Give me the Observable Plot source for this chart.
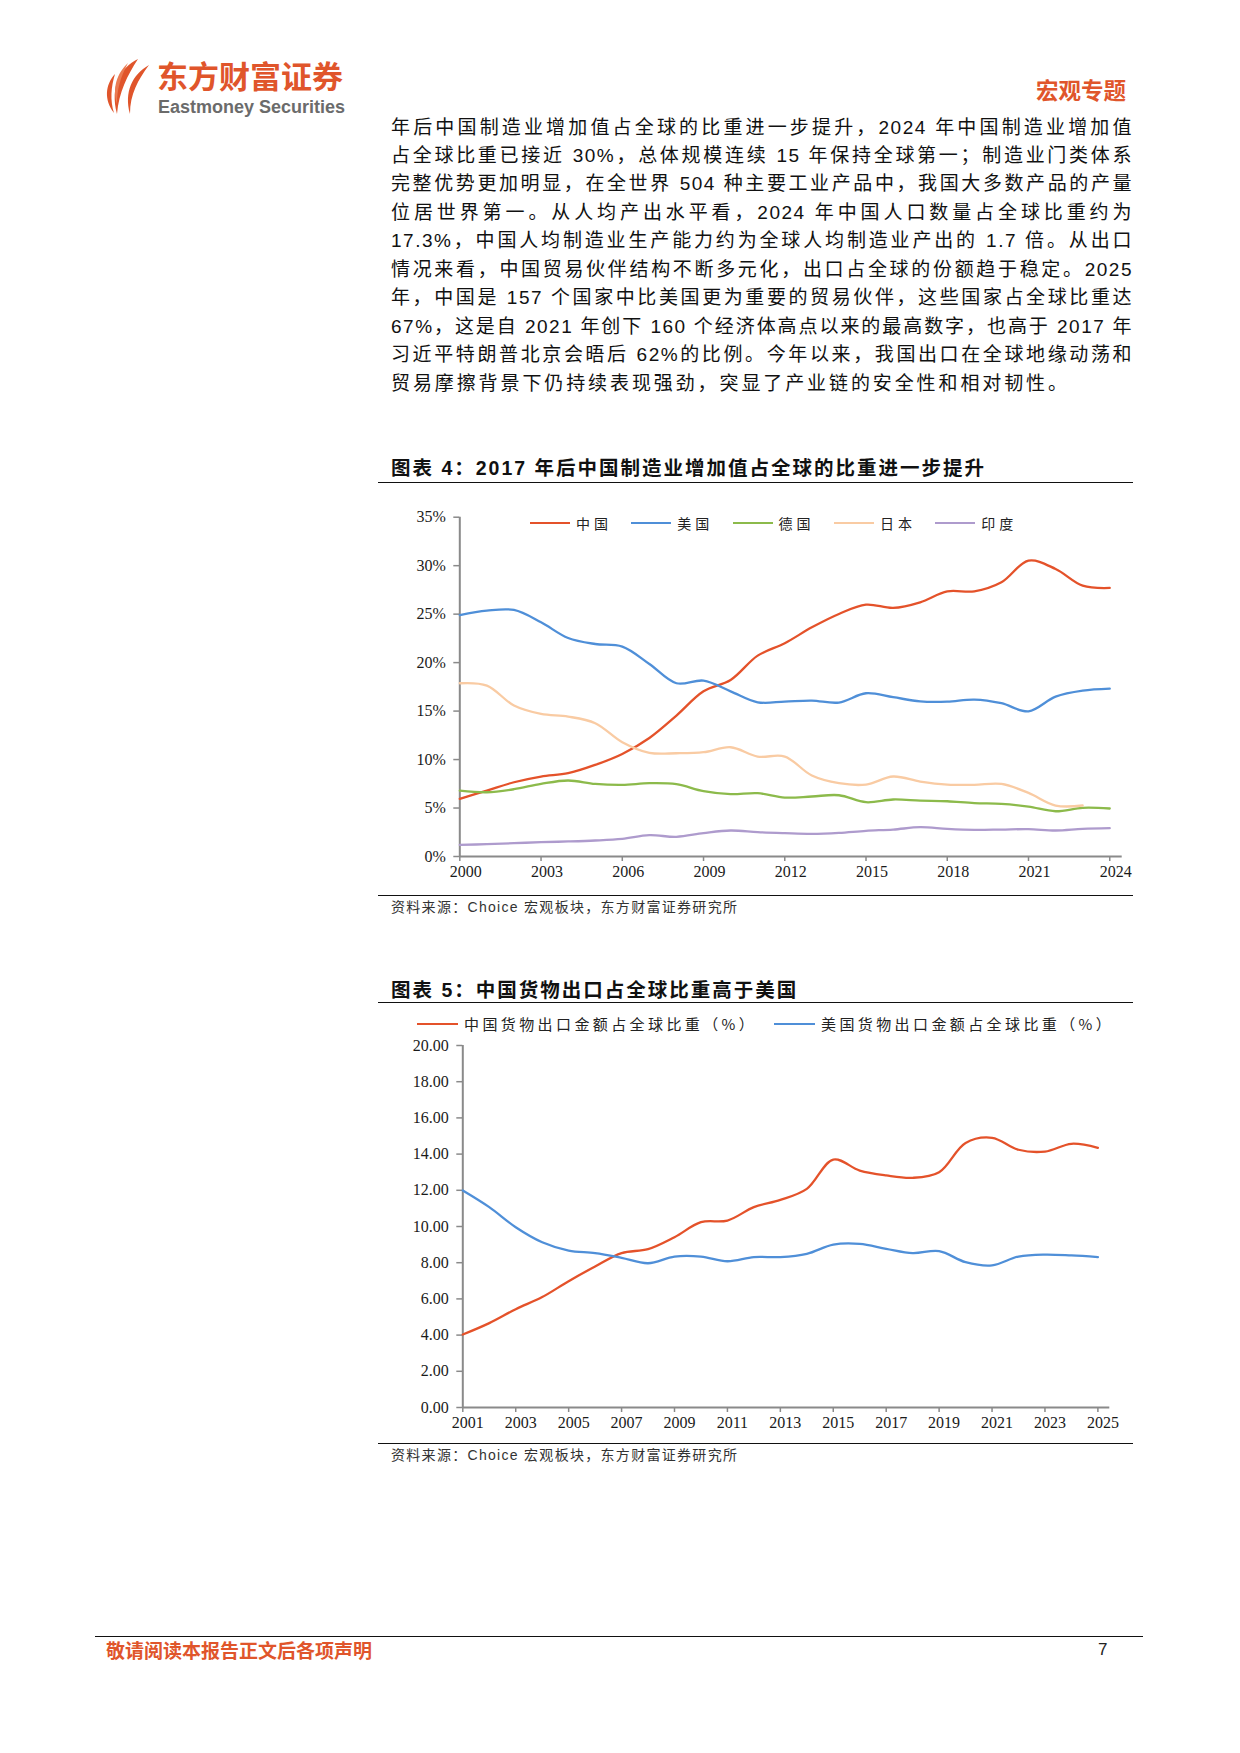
<!DOCTYPE html>
<html lang="zh-CN">
<head>
<meta charset="utf-8">
<title>宏观专题</title>
<script src="https://cdn.jsdelivr.net/npm/d3@7"></script>
<script src="https://cdn.jsdelivr.net/npm/@observablehq/plot@0.6"></script>
<style>
  html, body { margin: 0; padding: 0; background: #fff; }
  #page { position: relative; width: 1240px; height: 1753px; overflow: hidden;
          font-family: "Liberation Sans", "Noto Sans CJK SC", sans-serif; color: #1a1a1a; }
  .abs { position: absolute; white-space: nowrap; }
  .para { position: absolute; left: 391px; width: 742px; font-size: 19px; line-height: 28px;
          letter-spacing: 1.5px; text-align: justify; text-align-last: justify; color: #111; }
  .para.last { text-align-last: left; letter-spacing: 2.9px; }
  .rule { position: absolute; height: 0; border-top: 1.6px solid #111; }
  .ctitle { font-weight: 700; font-size: 19.5px; letter-spacing: 2px; line-height: 24px; color: #111; }
  .src { font-size: 14px; letter-spacing: 1.3px; line-height: 20px; color: #333; }
  .legend { position: absolute; display: flex; align-items: center; height: 20px; color: #222;
            font-family: "Noto Sans CJK SC", sans-serif; }
  .legend .item { display: flex; align-items: center; }
  .legend .swatch { height: 2.5px; flex: none; }
  .chart { position: absolute; }
  .brand { color: #e0552b; }
</style>
</head>
<body>
<div id="page">
  <!-- masthead -->
  <svg class="abs" style="left:102px;top:58px" width="52" height="58" viewBox="0 0 52 58">
    <path d="M36 1 C18 10 8 28 15 56 C17 34 25 18 36 1 Z" fill="#e0552b"/>
    <path d="M47 7 C30 17 22 34 28 56 C28 36 36 22 47 7 Z" fill="#e0552b"/>
    <path d="M13 16 C3 27 2 42 12 55 C8 42 9 29 13 16 Z" fill="#e0552b"/>
    <path d="M26 5 C15 15 10 30 15 46 C15 32 18 20 26 5 Z" fill="#ea7b52"/>
  </svg>
  <div class="abs brand" style="left:157px;top:60px;font-family:'Noto Sans CJK SC';font-weight:700;font-size:31px;line-height:30px;">东方财富证券</div>
  <div class="abs" style="left:158px;top:99px;font-weight:700;font-size:18px;line-height:17px;color:#6b6b6b;">Eastmoney Securities</div>
  <div class="abs brand" style="left:1036px;top:76px;font-family:'Noto Sans CJK SC';font-weight:700;font-size:22.5px;line-height:26px;">宏观专题</div>

  <!-- body text -->
  <div id="body"></div>

  <!-- figure 4 -->
  <div class="abs ctitle" style="left:391px;top:456px;">图表 4：2017 年后中国制造业增加值占全球的比重进一步提升</div>
  <div class="rule" style="left:378px;top:482px;width:755px;"></div>
  <div id="chart1" class="chart" style="left:380px;top:500px;"></div>
  <div id="legend1" class="legend" style="left:530px;top:513px;"></div>
  <div class="rule" style="left:378px;top:895px;width:755px;"></div>
  <div class="abs src" style="left:391px;top:897px;">资料来源：Choice 宏观板块，东方财富证券研究所</div>

  <!-- figure 5 -->
  <div class="abs ctitle" style="left:391px;top:978px;">图表 5：中国货物出口占全球比重高于美国</div>
  <div class="rule" style="left:378px;top:1002px;width:755px;"></div>
  <div id="chart2" class="chart" style="left:380px;top:1030px;"></div>
  <div id="legend2" class="legend" style="left:417px;top:1014px;"></div>
  <div class="rule" style="left:378px;top:1443px;width:755px;"></div>
  <div class="abs src" style="left:391px;top:1445px;">资料来源：Choice 宏观板块，东方财富证券研究所</div>

  <!-- footer -->
  <div class="rule" style="left:95px;top:1636px;width:1048px;"></div>
  <div class="abs brand" style="left:106px;top:1638px;font-family:'Noto Sans CJK SC';font-weight:700;font-size:19px;line-height:24px;">敬请阅读本报告正文后各项声明</div>
  <div class="abs" style="left:1098px;top:1640px;font-size:17px;line-height:20px;color:#222;">7</div>
</div>

<script>
// ---------- body text, one entry per printed line ----------
const bodyLines = [
  "年后中国制造业增加值占全球的比重进一步提升，2024 年中国制造业增加值",
  "占全球比重已接近 30%，总体规模连续 15 年保持全球第一；制造业门类体系",
  "完整优势更加明显，在全世界 504 种主要工业产品中，我国大多数产品的产量",
  "位居世界第一。从人均产出水平看，2024 年中国人口数量占全球比重约为",
  "17.3%，中国人均制造业生产能力约为全球人均制造业产出的 1.7 倍。从出口",
  "情况来看，中国贸易伙伴结构不断多元化，出口占全球的份额趋于稳定。2025",
  "年，中国是 157 个国家中比美国更为重要的贸易伙伴，这些国家占全球比重达",
  "67%，这是自 2021 年创下 160 个经济体高点以来的最高数字，也高于 2017 年",
  "习近平特朗普北京会晤后 62%的比例。今年以来，我国出口在全球地缘动荡和",
  "贸易摩擦背景下仍持续表现强劲，突显了产业链的安全性和相对韧性。"
];

// ---------- figure 4: manufacturing value added, share of world (%) ----------
const years1 = [2000, 2001, 2002, 2003, 2004, 2005, 2006, 2007, 2008, 2009, 2010, 2011, 2012,
                2013, 2014, 2015, 2016, 2017, 2018, 2019, 2020, 2021, 2022, 2023, 2024];
const china1   = [5.95, 6.80, 7.66, 8.25, 8.59, 9.45, 10.58, 12.23, 14.54, 17.04, 18.21, 20.72, 22.00,
                  23.64, 25.02, 25.98, 25.64, 26.22, 27.35, 27.35, 28.28, 30.52, 29.66, 27.94, 27.70];
const us1      = [24.91, 25.36, 25.43, 24.16, 22.54, 21.92, 21.65, 19.86, 17.87, 18.14, 17.04, 15.91, 15.98,
                  16.08, 15.88, 16.84, 16.43, 16.01, 15.98, 16.19, 15.81, 14.98, 16.49, 17.11, 17.32];
const germany1 = [6.80, 6.63, 6.94, 7.49, 7.84, 7.49, 7.39, 7.56, 7.46, 6.74, 6.43, 6.53, 6.08,
                  6.19, 6.32, 5.60, 5.88, 5.77, 5.70, 5.50, 5.43, 5.15, 4.67, 5.02, 4.95];
const japan1   = [17.87, 17.63, 15.57, 14.71, 14.43, 13.75, 11.79, 10.69, 10.65, 10.76, 11.27, 10.31, 10.31,
                  8.35, 7.56, 7.42, 8.25, 7.73, 7.42, 7.39, 7.49, 6.56, 5.26, 5.26];
const india1   = [1.20, 1.27, 1.37, 1.48, 1.55, 1.65, 1.82, 2.20, 2.03, 2.41, 2.68, 2.51, 2.41,
                  2.34, 2.44, 2.65, 2.78, 3.02, 2.85, 2.75, 2.78, 2.82, 2.68, 2.85, 2.92];
const names1  = ["中国", "美国", "德国", "日本", "印度"];
const colors1 = ["#e4522a", "#4f8fd8", "#8cba4b", "#f9cba3", "#ae9bcd"];
const xTicks1 = [2000, 2003, 2006, 2009, 2012, 2015, 2018, 2021, 2024];
const yTicks1 = [0, 5, 10, 15, 20, 25, 30, 35];

// ---------- figure 5: goods exports, share of world (%) ----------
const years2 = [2001, 2002, 2003, 2004, 2005, 2006, 2007, 2008, 2009, 2010, 2011, 2012, 2013,
                2014, 2015, 2016, 2017, 2018, 2019, 2020, 2021, 2022, 2023, 2024, 2025];
const china2 = [4.03, 4.66, 5.43, 6.10, 6.98, 7.79, 8.53, 8.75, 9.41, 10.24, 10.33, 11.07, 11.47,
                12.08, 13.70, 13.09, 12.82, 12.69, 13.00, 14.62, 14.90, 14.24, 14.14, 14.57, 14.35];
const us2    = [11.99, 11.07, 9.96, 9.13, 8.67, 8.53, 8.27, 7.97, 8.34, 8.34, 8.08, 8.31, 8.31,
                8.49, 9.00, 9.04, 8.77, 8.53, 8.64, 8.03, 7.85, 8.34, 8.45, 8.40, 8.31];
const names2  = ["中国货物出口金额占全球比重（%）", "美国货物出口金额占全球比重（%）"];
const colors2 = ["#e4522a", "#4f8fd8"];
const xTicks2 = [2001, 2003, 2005, 2007, 2009, 2011, 2013, 2015, 2017, 2019, 2021, 2023, 2025];
const yTicks2 = [0, 2, 4, 6, 8, 10, 12, 14, 16, 18, 20];

const axisGray = "#8a8a8a";

// body paragraph
const bodyEl = document.getElementById("body");
bodyLines.forEach((t, i) => {
  const d = document.createElement("div");
  d.className = "para" + (i === bodyLines.length - 1 ? " last" : "");
  d.style.top = (113.5 + i * 28.45) + "px";
  d.textContent = t;
  bodyEl.appendChild(d);
});

function toRows(years, names, series) {
  const rows = [];
  series.forEach((vals, k) => vals.forEach((v, i) => rows.push({name: names[k], year: years[i], value: v})));
  return rows;
}

function legend(el, names, colors, itemWidth, lineWidth, fontSize, spacing) {
  names.forEach((n, i) => {
    const item = document.createElement("div");
    item.className = "item";
    item.style.width = itemWidth + "px";
    const sw = document.createElement("div");
    sw.className = "swatch";
    sw.style.width = lineWidth + "px";
    sw.style.background = colors[i];
    const tx = document.createElement("span");
    tx.textContent = n;
    tx.style.marginLeft = "6px";
    tx.style.fontSize = fontSize + "px";
    tx.style.letterSpacing = spacing + "px";
    tx.style.lineHeight = "20px";
    tx.style.whiteSpace = "nowrap";
    item.appendChild(sw);
    item.appendChild(tx);
    el.appendChild(item);
  });
}

const plotStyle = {fontFamily: '"Liberation Serif", serif', fontSize: "16px", color: "#1a1a1a",
                   background: "transparent", overflow: "visible"};

// figure 4
const rows1 = toRows(years1, names1, [china1, us1, germany1, japan1, india1]);
const chart1 = Plot.plot({
  width: 760, height: 400,
  marginLeft: 79.3, marginRight: 18.3, marginTop: 16.7, marginBottom: 44,
  style: plotStyle,
  x: {domain: [2000, 2024.46], label: null},
  y: {domain: [0, 35], label: null},
  color: {domain: names1, range: colors1},
  marks: [
    Plot.axisY({ticks: yTicks1, tickSize: 6, tickPadding: 8, tickFormat: d => d + "%", stroke: axisGray, strokeWidth: 1.5, label: null}),
    Plot.axisX({ticks: xTicks1, tickSize: 5, tickFormat: () => "", stroke: axisGray, strokeWidth: 1.5, label: null}),
    Plot.axisX({ticks: xTicks1, tickSize: 0, tickPadding: 9, dx: 6, tickFormat: d => String(d), label: null}),
    Plot.ruleX([2000], {y1: 0, y2: 35, stroke: axisGray, strokeWidth: 2}),
    Plot.ruleY([0], {stroke: axisGray, strokeWidth: 2}),
    Plot.line(rows1, {x: "year", y: "value", z: "name", stroke: "name", curve: "catmull-rom", strokeWidth: 2.3})
  ]
});
document.getElementById("chart1").appendChild(chart1);
legend(document.getElementById("legend1"), names1, colors1, 101.3, 40, 14, 4);

// figure 5
const rows2 = toRows(years2, names2, [china2, us2]);
const chart2 = Plot.plot({
  width: 760, height: 420,
  marginLeft: 82.3, marginRight: 30.7, marginTop: 15, marginBottom: 43,
  style: plotStyle,
  x: {domain: [2001, 2025.45], label: null},
  y: {domain: [0, 20], label: null},
  color: {domain: names2, range: colors2},
  marks: [
    Plot.axisY({ticks: yTicks2, tickSize: 6, tickPadding: 8, tickFormat: d3.format(".2f"), stroke: axisGray, strokeWidth: 1.5, label: null}),
    Plot.axisX({ticks: xTicks2, tickSize: 5, tickFormat: () => "", stroke: axisGray, strokeWidth: 1.5, label: null}),
    Plot.axisX({ticks: xTicks2, tickSize: 0, tickPadding: 9, dx: 5, tickFormat: d => String(d), label: null}),
    Plot.ruleX([2001], {y1: 0, y2: 20, stroke: axisGray, strokeWidth: 2}),
    Plot.ruleY([0], {stroke: axisGray, strokeWidth: 2}),
    Plot.line(rows2, {x: "year", y: "value", z: "name", stroke: "name", curve: "catmull-rom", strokeWidth: 2.3})
  ]
});
document.getElementById("chart2").appendChild(chart2);
legend(document.getElementById("legend2"), names2, colors2, 357, 41, 15, 3.4);
</script>
</body>
</html>
